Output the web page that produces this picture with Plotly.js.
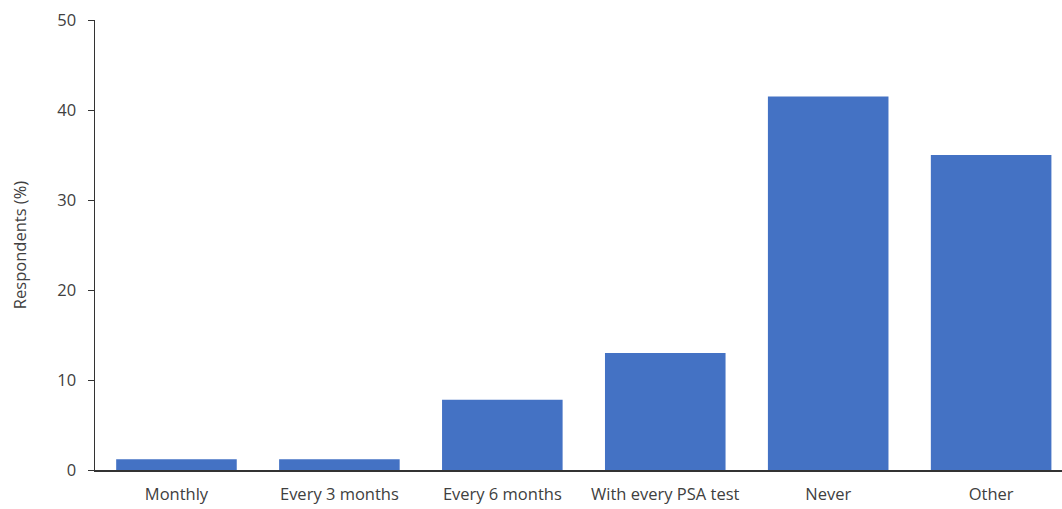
<!DOCTYPE html>
<html><head><meta charset="utf-8">
<script src="https://cdn.plot.ly/plotly-3.0.1.min.js"></script>
<style>html,body{margin:0;padding:0;overflow:hidden;background:#fff}</style>
</head><body>
<div id="chart" style="width:1062px;height:509px"></div>
<script>
const categories = ["Monthly", "Every 3 months", "Every 6 months", "With every PSA test", "Never", "Other"];
const respondents = [1.2, 1.2, 7.8, 13.0, 41.5, 35.0];
const yTicks = [0, 10, 20, 30, 40, 50];

const font = {family: "Open Sans, sans-serif", size: 16.5, color: "#404040"};
Plotly.newPlot("chart", [{
  type: "bar",
  x: categories,
  y: respondents,
  marker: {color: "#4472C4"},
  hoverinfo: "x+y"
}], {
  width: 1062, height: 509,
  margin: {l: 95, r: 0, t: 19.5, b: 39},
  paper_bgcolor: "#fff", plot_bgcolor: "#fff",
  bargap: 0.26,
  showlegend: false,
  font: font,
  xaxis: {
    range: [-0.5, 5.435],
    showline: true, linecolor: "#333", linewidth: 1.5,
    ticks: "outside", ticklen: 9, tickcolor: "rgba(0,0,0,0)",
    showgrid: false, zeroline: false,
    tickfont: font
  },
  yaxis: {
    range: [0, 50],
    tickvals: yTicks,
    showline: true, linecolor: "#333", linewidth: 1.5,
    ticks: "outside", ticklen: 6, tickcolor: "#333",
    ticklabelstandoff: 8,
    showgrid: false, zeroline: false,
    tickfont: font,
    title: {text: "Respondents (%)", font: font, standoff: 26}
  }
}, {displayModeBar: false, staticPlot: true});
</script>
</body></html>
